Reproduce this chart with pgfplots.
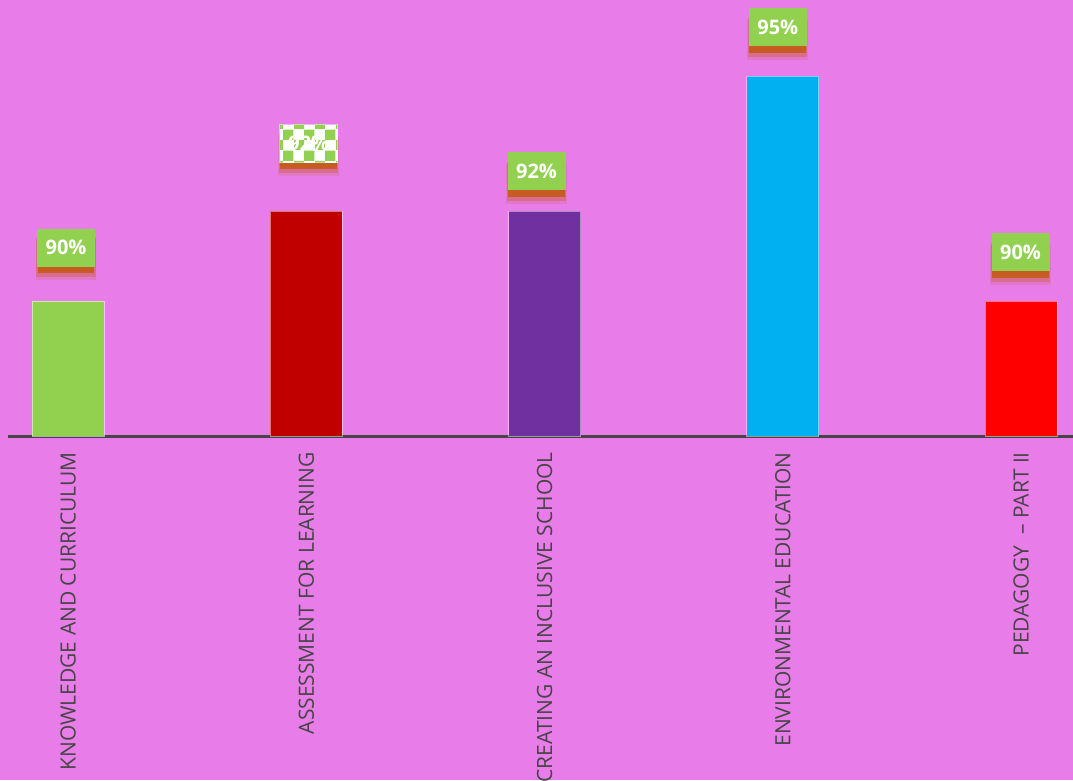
\documentclass[border=0pt]{standalone}
\usepackage{pgfplots}
\pgfplotsset{compat=1.18}
\usepackage{fontspec}
\setmainfont{Open Sans}
\usetikzlibrary{shadows,patterns}
\definecolor{bgc}{HTML}{E87CE8}
\definecolor{lgreen}{HTML}{92D050}
\definecolor{dred}{HTML}{C00000}
\definecolor{purp}{HTML}{7030A0}
\definecolor{cyanc}{HTML}{00B0F0}
\definecolor{redc}{HTML}{FF0000}
\definecolor{shadowc}{HTML}{C55A11}
\definecolor{axc}{HTML}{454545}
\pgfdeclarepatternformonly{checker}{\pgfqpoint{0pt}{0pt}}{\pgfqpoint{21pt}{21pt}}{\pgfqpoint{21pt}{21pt}}{%
  \pgfpathrectangle{\pgfqpoint{0pt}{0pt}}{\pgfqpoint{10.5pt}{10.5pt}}%
  \pgfpathrectangle{\pgfqpoint{10.5pt}{10.5pt}}{\pgfqpoint{10.5pt}{10.5pt}}%
  \pgfusepath{fill}}
\tikzset{
  lbl/.style={draw=none, fill=lgreen, text=white, font=\bfseries\fontsize{20}{22}\selectfont,
    minimum width=58pt, minimum height=38pt, inner sep=0pt, anchor=center,
    drop shadow={shadow xshift=0pt, shadow yshift=-12pt, shadow scale=1.05, fill=shadowc, opacity=0.15, draw=none},
    drop shadow={shadow xshift=0pt, shadow yshift=-10pt, shadow scale=1.02, fill=shadowc, opacity=0.3, draw=none},
    drop shadow={shadow xshift=0pt, shadow yshift=-7.5pt, shadow scale=0.98, fill=shadowc, opacity=0.85, draw=none}},
  lblchk/.style={lbl, fill=white, postaction={pattern=checker, pattern color=lgreen}},
}
\begin{document}
\begin{tikzpicture}
\fill[bgc] (0,0) rectangle (1073pt,780pt);
\useasboundingbox (0,0) rectangle (1073pt,780pt);
\begin{axis}[
  at={(8pt,344pt)}, anchor=south west,
  scale only axis, width=1065pt, height=436pt,
  xmin=-0.252, xmax=4.218, ymin=87, ymax=96.689,
  axis y line=none, axis x line*=bottom,
  axis line style={axc, line width=3pt},
  major tick length=0pt,
  xtick={0,1,2,3,4},
  xticklabels={KNOWLEDGE AND CURRICULUM, ASSESSMENT FOR LEARNING, CREATING AN INCLUSIVE SCHOOL, ENVIRONMENTAL EDUCATION, PEDAGOGY \ – PART II},
  xticklabel style={rotate=90, anchor=east, inner sep=0pt, text=axc, font=\fontsize{21}{22}\selectfont},
  xticklabel shift=16pt,
  ytick=\empty,
  ybar, bar width=72pt, bar shift=0pt,
  clip=false,
  nodes near coords={\pgfmathprintnumber[assume math mode=true]{\pgfplotspointmeta}\%},
]
\addplot[fill=lgreen, draw=white, draw opacity=0.55, line width=1pt,
  every node near coord/.style={lbl, xshift=-2pt, yshift=53.5pt}]
  coordinates {(0,90)};
\addplot[fill=dred, draw=white, draw opacity=0.45, line width=1pt,
  every node near coord/.style={lblchk, xshift=2.5pt, yshift=67.5pt}]
  coordinates {(1,92)};
\addplot[fill=purp, draw=white, draw opacity=0.45, line width=1pt,
  every node near coord/.style={lbl, xshift=-8pt, yshift=40pt}]
  coordinates {(2,92)};
\addplot[fill=cyanc, draw=white, draw opacity=0.45, line width=1pt,
  every node near coord/.style={lbl, xshift=-5pt, yshift=49pt}]
  coordinates {(3,95)};
\addplot[fill=redc, draw=white, draw opacity=0.45, line width=1pt,
  every node near coord/.style={lbl, xshift=-0.5pt, yshift=49pt}]
  coordinates {(4,90)};
\end{axis}
\end{tikzpicture}
\end{document}
